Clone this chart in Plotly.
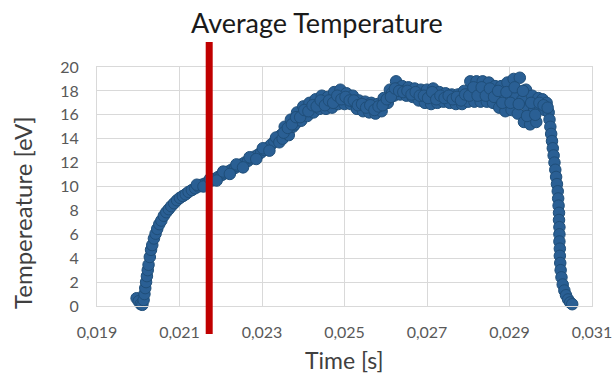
import plotly.graph_objects as go

# ---- data ----
rise_t = [0.01996, 0.02001, 0.02006, 0.02010, 0.02013, 0.02015, 0.02017, 0.02019,
          0.02021, 0.02023, 0.02025, 0.02028, 0.02031, 0.02034, 0.02038, 0.02042,
          0.02046, 0.02051, 0.02056, 0.02062, 0.02068, 0.02074, 0.02080, 0.02087,
          0.02094, 0.02101, 0.02108, 0.02115, 0.02122, 0.02130, 0.02138, 0.02146,
          0.02154, 0.02162, 0.02170, 0.02178, 0.02186, 0.02194, 0.02202, 0.02210,
          0.02218, 0.02226, 0.02234, 0.02242, 0.02250, 0.02258, 0.02266, 0.02274,
          0.02282, 0.02290, 0.02298, 0.02306, 0.02314, 0.02322, 0.02330, 0.02338,
          0.02346]
rise_T = [0.65, 0.40, 0.15, 0.10, 0.50, 1.00, 1.50, 2.00,
          2.50, 3.00, 3.45, 4.10, 4.70, 5.10, 5.65, 6.05,
          6.45, 6.85, 7.15, 7.55, 7.85, 8.10, 8.35, 8.60,
          8.85, 9.05, 9.20, 9.35, 9.55, 9.70, 9.85, 10.00,
          10.15, 10.25, 10.40, 10.50, 10.65, 10.80, 10.95, 11.10,
          11.25, 11.40, 11.55, 11.70, 11.85, 12.00, 12.15, 12.35,
          12.50, 12.65, 12.85, 13.05, 13.25, 13.50, 13.75, 14.00,
          14.30]

rise_edge_t = [0.02142, 0.02158, 0.02174, 0.02190, 0.02206, 0.02222, 0.02238,
               0.02254, 0.02270, 0.02286, 0.02302, 0.02318, 0.02334, 0.02342]
rise_edge_T = [10.15, 10.00, 10.65, 10.50, 11.25, 11.05, 11.85,
               11.60, 12.45, 12.30, 13.20, 13.00, 14.10, 13.70]

plateau_t = [0.02350, 0.02355, 0.02360, 0.02365, 0.02370, 0.02375, 0.02380, 0.02385,
             0.02390, 0.02395, 0.02400, 0.02405, 0.02410, 0.02415, 0.02420, 0.02425,
             0.02430, 0.02435, 0.02440, 0.02445, 0.02450, 0.02455, 0.02460, 0.02465,
             0.02470, 0.02475, 0.02480, 0.02485, 0.02490, 0.02495, 0.02500, 0.02505,
             0.02510, 0.02515, 0.02520, 0.02525, 0.02530, 0.02535, 0.02540, 0.02545,
             0.02550, 0.02555, 0.02560, 0.02565, 0.02570, 0.02575, 0.02580, 0.02585,
             0.02590, 0.02595, 0.02600, 0.02605, 0.02610, 0.02615, 0.02620, 0.02625,
             0.02630, 0.02635, 0.02640, 0.02645, 0.02650, 0.02655, 0.02660, 0.02665,
             0.02670, 0.02675, 0.02680, 0.02685, 0.02690, 0.02695, 0.02700, 0.02705,
             0.02710, 0.02715, 0.02720, 0.02725, 0.02730, 0.02735, 0.02740, 0.02745,
             0.02750, 0.02755, 0.02760, 0.02765, 0.02770, 0.02775, 0.02780, 0.02785,
             0.02790, 0.02795, 0.02800, 0.02805, 0.02810, 0.02815, 0.02820, 0.02825,
             0.02830, 0.02835, 0.02840, 0.02845, 0.02850, 0.02855, 0.02860, 0.02865,
             0.02870, 0.02875, 0.02880, 0.02885, 0.02890, 0.02895, 0.02900, 0.02905,
             0.02910, 0.02915, 0.02920, 0.02925, 0.02930, 0.02935, 0.02940, 0.02945,
             0.02950, 0.02955, 0.02960, 0.02965, 0.02970, 0.02975, 0.02980, 0.02985,
             0.02990, 0.02995]
plateau_T = [14.0, 15.0, 14.6, 14.3, 15.6, 15.0, 15.2, 16.2,
             15.8, 15.5, 16.7, 16.1, 15.9, 17.0, 16.5, 16.2,
             17.3, 16.9, 16.5, 17.6, 17.0, 16.5, 17.5, 16.9,
             16.6, 17.9, 17.3, 16.9, 18.1, 17.4, 16.9, 17.8,
             17.3, 16.9, 17.6, 17.0, 16.5, 17.2, 16.8, 16.3,
             17.1, 16.7, 16.2, 17.0, 16.5, 16.1, 16.9, 16.5,
             16.3, 17.4, 17.0, 17.0, 18.1, 17.8, 17.6, 18.8,
             18.2, 17.7, 18.4, 18.0, 17.6, 18.3, 17.9, 17.5,
             18.2, 17.7, 17.2, 18.1, 17.6, 17.0, 18.1, 17.5,
             16.9, 18.2, 17.6, 17.0, 17.9, 17.4, 17.1, 17.8,
             17.4, 17.0, 17.7, 17.3, 16.9, 17.7, 17.3, 16.9,
             18.0, 17.5, 17.1, 18.8, 18.0, 17.1, 18.8, 17.9,
             17.1, 18.8, 18.0, 17.1, 18.7, 17.8, 17.0, 18.4,
             17.6, 16.6, 18.4, 17.3, 16.3, 18.7, 17.5, 16.4,
             19.0, 17.6, 16.1, 19.1, 17.2, 15.4, 18.1, 16.6,
             15.2, 17.6, 16.4, 15.4, 17.4, 16.6, 17.3, 16.4,
             17.0, 16.2]

plateau_mid_t = [0.023525, 0.023625, 0.023725, 0.023825, 0.023925, 0.024025, 0.024125,
                 0.024225, 0.024325, 0.024425, 0.024525, 0.024625, 0.024725, 0.024825,
                 0.024925, 0.025025, 0.025125, 0.025225, 0.025325, 0.025425, 0.025525,
                 0.025625, 0.025725, 0.025825, 0.025925, 0.026025, 0.026125, 0.026225,
                 0.026325, 0.026425, 0.026525, 0.026625, 0.026725, 0.026825, 0.026925,
                 0.027025, 0.027125, 0.027225, 0.027325, 0.027425, 0.027525, 0.027625,
                 0.027725, 0.027825, 0.027925, 0.028025, 0.028125, 0.028225, 0.028325,
                 0.028425, 0.028525, 0.028625, 0.028725, 0.028825, 0.028925, 0.029025,
                 0.029125, 0.029225, 0.029325, 0.029425, 0.029525, 0.029625, 0.029725,
                 0.029825, 0.029925]
plateau_mid_T = [14.5, 14.9, 15.2, 15.8, 15.8, 16.4, 16.3,
                 16.8, 16.7, 17.2, 16.8, 17.2, 17.0, 17.6,
                 17.3, 17.5, 17.2, 17.2, 16.8, 16.9, 16.6,
                 16.8, 16.4, 16.7, 16.8, 17.3, 17.5, 18.2,
                 18.0, 17.9, 18.0, 17.7, 17.9, 17.6, 17.6,
                 17.4, 17.9, 17.3, 17.6, 17.4, 17.6, 17.3,
                 17.5, 17.2, 17.7, 17.6, 18.3, 17.6, 18.3,
                 17.6, 18.2, 17.5, 18.0, 17.0, 17.9, 17.0,
                 18.3, 16.9, 18.0, 15.9, 17.0, 16.0, 17.0,
                 16.8, 16.6]

drop_t = [0.02997, 0.02999, 0.03001, 0.03003, 0.03005, 0.03007, 0.03009, 0.03011,
          0.03013, 0.03015, 0.03017, 0.03018, 0.03019, 0.03020, 0.03020, 0.03021,
          0.03021, 0.03021, 0.03022, 0.03022, 0.03023, 0.03024, 0.03026, 0.03029,
          0.03033, 0.03037, 0.03042, 0.03047, 0.03052]
drop_T = [15.6, 15.0, 14.4, 13.8, 13.2, 12.6, 12.0, 11.4,
          10.8, 10.2, 9.6, 9.0, 8.4, 7.8, 7.2, 6.6,
          6.0, 5.4, 4.8, 4.2, 3.6, 3.0, 2.4, 1.8,
          1.3, 0.9, 0.55, 0.3, 0.15]

marker_time = 0.02172          # red vertical marker
x_ticks = [0.019, 0.021, 0.023, 0.025, 0.027, 0.029, 0.031]
y_ticks = [0, 2, 4, 6, 8, 10, 12, 14, 16, 18, 20]

time_s = rise_t + rise_edge_t + plateau_t + plateau_mid_t + drop_t
temp_ev = rise_T + rise_edge_T + plateau_T + plateau_mid_T + drop_T

FONT = "Lato"
W, H = 615, 379
L, R, T, B = 97, 23, 67, 73
PW, PH = W - L - R, H - T - B


def px(xp):                  # page pixel x -> paper
    return (xp - L) / PW


def py(yp):                  # page pixel y -> paper
    return (H - B - yp) / PH


fig = go.Figure()
fig.add_trace(go.Scatter(
    x=time_s, y=temp_ev, mode="markers", cliponaxis=False,
    marker=dict(size=11.5, color="#2A5F94", line=dict(color="#1F4E79", width=1)),
    showlegend=False, hoverinfo="x+y",
))

fig.add_shape(type="line", xref="x", yref="paper",
              x0=marker_time, x1=marker_time, y0=py(334), y1=py(42),
              line=dict(color="#C00000", width=7), layer="above")

fig.update_layout(
    width=W, height=H,
    margin=dict(l=L, r=R, t=T, b=B, autoexpand=False),
    paper_bgcolor="white", plot_bgcolor="white",
    separators=",.",
    font=dict(family=FONT, color="#595959"),
    annotations=[
        dict(text="Average Temperature", xref="paper", yref="paper",
             x=px(317), y=py(23), xanchor="center", yanchor="middle",
             showarrow=False, font=dict(size=27, color="#1a1a1a", family=FONT)),
        dict(text="Time [s]", xref="paper", yref="paper",
             x=px(344), y=py(360), xanchor="center", yanchor="middle",
             showarrow=False, font=dict(size=23, color="#404040", family=FONT)),
        dict(text="Tempereature [eV]", xref="paper", yref="paper",
             x=px(23), y=py(213), xanchor="center", yanchor="middle", textangle=-90,
             showarrow=False, font=dict(size=24, color="#404040", family=FONT)),
    ],
)

fig.update_xaxes(range=[0.019, 0.031], tickvals=x_ticks, tickformat=".3f",
                 showgrid=True, gridcolor="#D9D9D9", gridwidth=1,
                 showline=True, linecolor="#D9D9D9", linewidth=1, mirror=True,
                 zeroline=False, ticks="", ticklabelstandoff=12,
                 tickfont=dict(size=16, color="#595959", family=FONT))
fig.update_yaxes(range=[0, 20], tickvals=y_ticks,
                 showgrid=True, gridcolor="#D9D9D9", gridwidth=1,
                 showline=True, linecolor="#D9D9D9", linewidth=1, mirror=True,
                 zeroline=False, ticks="", ticklabelstandoff=14,
                 tickfont=dict(size=16, color="#595959", family=FONT))

fig.write_html("out.html",
               config={"displayModeBar": False},
               post_script="document.body.style.margin='0px';"
                           "document.body.style.overflow='hidden';")
